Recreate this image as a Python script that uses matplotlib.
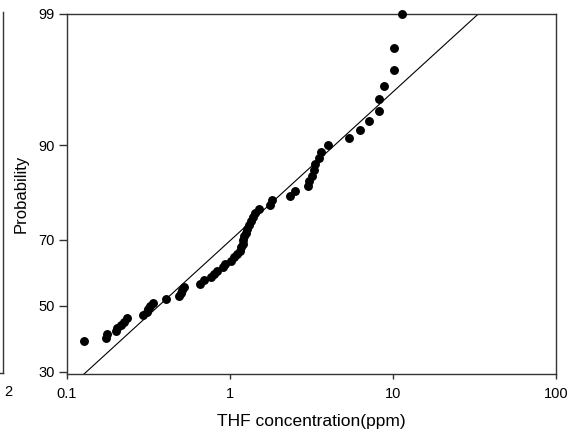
from statistics import NormalDist

import matplotlib
matplotlib.use("Agg")
import matplotlib.pyplot as plt
import numpy as np
from matplotlib.lines import Line2D

plt.rcParams["font.family"] = ["Liberation Sans", "DejaVu Sans"]

# THF concentration (ppm), sorted ascending
thf_ppm = [
    0.128, 0.175, 0.177, 0.202, 0.204, 0.215, 0.225, 0.235, 0.292, 0.309,
    0.317, 0.324, 0.337, 0.409, 0.488, 0.499, 0.509, 0.525, 0.661, 0.698,
    0.764, 0.797, 0.835, 0.906, 0.938, 1.013, 1.061, 1.102, 1.150, 1.175,
    1.200, 1.213, 1.226, 1.252, 1.279, 1.315, 1.355, 1.394, 1.434, 1.517,
    1.752, 1.827, 2.339, 2.511, 3.029, 3.072, 3.205, 3.297, 3.316, 3.524,
    3.625, 3.985, 5.38, 6.285, 7.166, 8.22, 8.25, 8.82, 10.15, 10.2, 11.32,
]
# cumulative probability (%) of each point
prob_pct = [
    39, 40, 41, 42, 43, 44, 45, 46, 47, 48,
    49, 50, 51, 52, 53, 54, 55, 56, 57, 58,
    59, 60, 61, 62, 63, 64, 65, 66, 67, 68,
    69, 70, 71, 72, 73, 74, 75, 76, 77, 78,
    79, 80, 81, 82, 83, 84, 85, 86, 87, 88,
    89, 90, 91, 92, 93, 94, 95, 96, 97, 98, 99,
]

# fitted lognormal line: geometric mean and log10 standard deviation
fit_geomean = 0.367
fit_sigma_log10 = 0.842

y_ticks = [30, 50, 70, 90, 99]
x_ticks = [0.1, 1, 10, 100]
x_ticklabels = ["0.1", "1", "10", "100"]

_nd = NormalDist()
_ppf = np.vectorize(lambda p: _nd.inv_cdf(min(max(p / 100.0, 1e-9), 1 - 1e-9)), otypes=[float])
_cdf = np.vectorize(lambda z: _nd.cdf(z) * 100.0, otypes=[float])


def prob_forward(p):
    return _ppf(np.asarray(p, dtype=float))


def prob_inverse(z):
    return _cdf(np.asarray(z, dtype=float))


fig = plt.figure(figsize=(5.74, 4.32), dpi=100)
ax = fig.add_axes([0.1162, 0.135, 0.9686 - 0.1162, 0.9676 - 0.135])

ax.set_xscale("log")
ax.set_yscale("function", functions=(prob_forward, prob_inverse))

ax.plot(thf_ppm, prob_pct, "o", color="black", ms=5.4, clip_on=False, zorder=3)

x_line = np.logspace(-1, 2, 200)
z_line = (np.log10(x_line) - np.log10(fit_geomean)) / fit_sigma_log10
ax.plot(x_line, prob_inverse(z_line), color="black", lw=0.8)

ax.set_xlim(0.1, 100)
ax.set_ylim(29.4, 99)
ax.set_xticks(x_ticks)
ax.set_xticklabels(x_ticklabels)
ax.set_yticks(y_ticks)
ax.set_yticklabels([str(t) for t in y_ticks])
ax.minorticks_off()
ax.tick_params(direction="out", width=1, color="#333333", labelsize=10.5)
ax.tick_params(axis="x", length=3.6, pad=6)
ax.tick_params(axis="y", length=5.5, pad=3)

for sp in ax.spines.values():
    sp.set_color("#333333")
    sp.set_linewidth(1.0)

ax.set_xlabel("THF concentration(ppm)", fontsize=12.5, labelpad=9)
ax.set_ylabel("Probability", fontsize=12, labelpad=7)

# edge of the neighbouring panel, cut off at the left
fig.add_artist(Line2D([3 / 574, 3 / 574], [1 - 12 / 432, 1 - 373 / 432],
                      transform=fig.transFigure, color="#333333", lw=1.0))
fig.add_artist(Line2D([0, 3 / 574], [1 - 373 / 432, 1 - 373 / 432],
                      transform=fig.transFigure, color="#333333", lw=1.0))
fig.text(8 / 574, 1 - 392 / 432, "2", fontsize=10.5, ha="center", va="center")

fig.savefig("out.png", dpi=100)
